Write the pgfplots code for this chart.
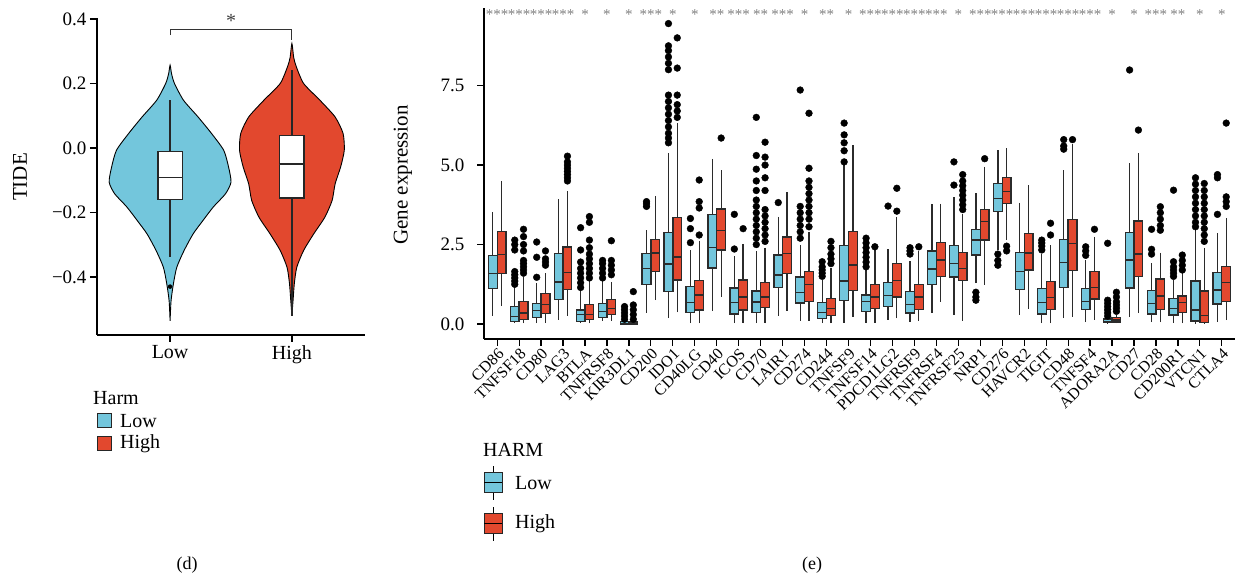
\documentclass[border=0pt]{standalone}
\usepackage{fontspec}
\setmainfont{Liberation Serif}
\usepackage{pgfplots}
\pgfplotsset{compat=1.18}
\usepgfplotslibrary{statistics}
\pgfplotsset{boxplot/draw direction=y}
\definecolor{cLow}{HTML}{73C6DC}
\definecolor{cHigh}{HTML}{E2482E}
\definecolor{cEdge}{HTML}{2B2B2B}
\newcommand{\fs}[1]{\fontsize{#1}{#1}\selectfont}
\newcommand{\bx}[7]{\addplot[boxplot prepared={draw position=#1, lower whisker=#2, lower quartile=#3, median=#4, upper quartile=#5, upper whisker=#6, box extend=0.4, whisker extend=0, draw direction=y}, draw=cEdge, fill=#7, line width=1.3pt] coordinates {};}
\begin{document}
\begin{tikzpicture}
\useasboundingbox (0,0) rectangle (1237pt,580pt);
% ---------------- (d) violin ----------------
\begin{axis}[at={(97pt,245pt)}, anchor=south west, width=268pt, height=317pt, scale only axis,
  xmin=0.4, xmax=2.6, ymin=-0.58, ymax=0.403, axis lines*=left, clip=false,
  axis line style={line width=1.2pt}, tick style={line width=1.2pt, black}, tick align=outside, major tick length=7pt,
  xtick={1,2}, xticklabels={Low,High}, ytick={-0.4,-0.2,0,0.2,0.4}, yticklabels={−0.4,−0.2,0.0,0.2,0.4},
  tick label style={font=\fs{19}}, xticklabel style={font=\fs{20}}]
\addplot[fill=cLow, draw=black, line width=0.9pt, smooth, tension=0.4] coordinates {
(1,-0.536) (1.008,-0.474) (1.027,-0.422) (1.055,-0.37) (1.115,-0.318) (1.19,-0.266) (1.27,-0.225) (1.355,-0.183) (1.455,-0.142) (1.50,-0.106) (1.48,-0.059) (1.44,-0.007) (1.34,0.045) (1.23,0.096) (1.11,0.148) (1.036,0.2) (1.012,0.23) (1,0.257)
(0.988,0.23) (0.964,0.2) (0.89,0.148) (0.77,0.096) (0.66,0.045) (0.56,-0.007) (0.52,-0.059) (0.50,-0.106) (0.545,-0.142) (0.645,-0.183) (0.73,-0.225) (0.81,-0.266) (0.885,-0.318) (0.945,-0.37) (0.973,-0.422) (0.992,-0.474) (1,-0.536)};
\addplot[fill=cHigh, draw=black, line width=0.9pt, smooth, tension=0.4] coordinates {
(2,-0.52) (2.01,-0.47) (2.02,-0.42) (2.04,-0.37) (2.096,-0.318) (2.18,-0.266) (2.27,-0.215) (2.33,-0.163) (2.355,-0.111) (2.40,-0.059) (2.43,-0.007) (2.42,0.045) (2.355,0.096) (2.23,0.148) (2.096,0.2) (2.036,0.252) (2.015,0.28) (2,0.324)
(1.985,0.28) (1.964,0.252) (1.904,0.2) (1.77,0.148) (1.645,0.096) (1.58,0.045) (1.57,-0.007) (1.60,-0.059) (1.645,-0.111) (1.67,-0.163) (1.73,-0.215) (1.82,-0.266) (1.904,-0.318) (1.96,-0.37) (1.98,-0.42) (1.99,-0.47) (2,-0.52)};
\addplot[boxplot prepared={draw position=1, lower whisker=-0.339, lower quartile=-0.161, median=-0.091, upper quartile=-0.010, upper whisker=0.150, box extend=0.2, whisker extend=0, draw direction=y}, draw=black!85, fill=white, line width=1.2pt] coordinates {};
\addplot[boxplot prepared={draw position=2, lower whisker=-0.52, lower quartile=-0.155, median=-0.050, upper quartile=0.039, upper whisker=0.241, box extend=0.2, whisker extend=0, draw direction=y}, draw=black!85, fill=white, line width=1.2pt] coordinates {};
\addplot[only marks, mark=*, mark size=2pt, black] coordinates {(1,-0.43)};
\addplot[black!80, line width=0.9pt] coordinates {(1,0.35) (1,0.369) (2,0.369) (2,0.335)};
\node[font=\fs{20}, text=black!75] at (axis cs:1.5,0.395) {*};
\end{axis}
% ---------------- (e) boxplots ----------------
\begin{axis}[at={(484pt,241pt)}, anchor=south west, width=751pt, height=331pt, scale only axis,
  xmin=0.4, xmax=34.6, ymin=-0.47, ymax=9.94, axis lines*=left, clip=false,
  axis line style={line width=1.2pt}, tick style={line width=1.2pt, black}, tick align=outside, major tick length=7pt,
  ytick={0,2.5,5,7.5}, yticklabels={0.0,2.5,5.0,7.5}, yticklabel style={font=\fs{19}, xshift=-9pt},
  xtick={1,...,34},
  xticklabels={CD86,TNFSF18,CD80,LAG3,BTLA,TNFRSF8,KIR3DL1,CD200,IDO1,CD40LG,CD40,ICOS,CD70,LAIR1,CD274,CD244,TNFSF9,TNFSF14,PDCD1LG2,TNFRSF9,TNFRSF4,TNFRSF25,NRP1,CD276,HAVCR2,TIGIT,CD48,TNFSF4,ADORA2A,CD27,CD28,CD200R1,VTCN1,CTLA4},
  xticklabel style={rotate=45, anchor=north east, font=\fs{16}, inner sep=1pt}]
\bx{0.8}{0.26}{1.11}{1.60}{2.16}{3.53}{cLow}
\bx{1.2}{0.56}{1.60}{2.19}{2.90}{4.50}{cHigh}
\bx{1.8}{0.02}{0.084}{0.24}{0.545}{1.17}{cLow}
\bx{2.2}{0.02}{0.15}{0.35}{0.72}{1.49}{cHigh}
\bx{2.8}{0.02}{0.21}{0.43}{0.65}{1.28}{cLow}
\bx{3.2}{0.03}{0.34}{0.62}{0.95}{1.59}{cHigh}
\bx{3.8}{0.13}{0.78}{1.32}{2.21}{3.94}{cLow}
\bx{4.2}{0.26}{1.09}{1.62}{2.42}{4.17}{cHigh}
\bx{4.8}{0.02}{0.09}{0.29}{0.44}{1.07}{cLow}
\bx{5.2}{0.02}{0.15}{0.31}{0.61}{1.35}{cHigh}
\bx{5.8}{0.1}{0.20}{0.40}{0.65}{1.35}{cLow}
\bx{6.2}{0.1}{0.29}{0.48}{0.77}{1.33}{cHigh}
\bx{6.8}{0}{0.0}{0.02}{0.07}{0.1}{cLow}
\bx{7.2}{0}{0.0}{0.03}{0.07}{0.1}{cHigh}
\bx{7.8}{0.36}{1.24}{1.75}{2.21}{2.95}{cLow}
\bx{8.2}{0.75}{1.66}{2.23}{2.66}{4.03}{cHigh}
\bx{8.8}{0.18}{1.03}{1.89}{2.88}{5.38}{cLow}
\bx{9.2}{0.37}{1.39}{2.11}{3.36}{6.32}{cHigh}
\bx{9.8}{0.02}{0.37}{0.67}{1.17}{2.33}{cLow}
\bx{10.2}{0.02}{0.44}{0.91}{1.38}{2.62}{cHigh}
\bx{10.8}{0.41}{1.76}{2.41}{3.45}{5.2}{cLow}
\bx{11.2}{0.86}{2.33}{2.94}{3.62}{4.84}{cHigh}
\bx{11.8}{0.02}{0.32}{0.68}{1.13}{2.14}{cLow}
\bx{12.2}{0.02}{0.44}{0.85}{1.39}{2.52}{cHigh}
\bx{12.8}{0.02}{0.37}{0.69}{1.04}{2.3}{cLow}
\bx{13.2}{0.02}{0.53}{0.85}{1.31}{2.4}{cHigh}
\bx{13.8}{0.26}{1.15}{1.54}{2.17}{3.38}{cLow}
\bx{14.2}{0.42}{1.59}{2.22}{2.74}{4.14}{cHigh}
\bx{14.8}{0.1}{0.66}{1.00}{1.48}{2.5}{cLow}
\bx{15.2}{0.1}{0.71}{1.25}{1.65}{2.9}{cHigh}
\bx{15.8}{0.02}{0.18}{0.36}{0.68}{1.4}{cLow}
\bx{16.2}{0.02}{0.27}{0.48}{0.80}{1.75}{cHigh}
\bx{16.8}{0.04}{0.74}{1.35}{2.48}{5.0}{cLow}
\bx{17.2}{0.23}{1.05}{1.86}{2.90}{5.63}{cHigh}
\bx{17.8}{0.02}{0.40}{0.70}{0.91}{1.7}{cLow}
\bx{18.2}{0.04}{0.50}{0.85}{1.24}{2.33}{cHigh}
\bx{18.8}{0.13}{0.56}{0.90}{1.31}{2.35}{cLow}
\bx{19.2}{0.18}{0.85}{1.37}{1.90}{3.38}{cHigh}
\bx{19.8}{0.07}{0.35}{0.62}{1.02}{1.98}{cLow}
\bx{20.2}{0.09}{0.46}{0.85}{1.25}{2.3}{cHigh}
\bx{20.8}{0.34}{1.25}{1.73}{2.30}{3.79}{cLow}
\bx{21.2}{0.70}{1.50}{2.01}{2.56}{3.79}{cHigh}
\bx{21.8}{0.28}{1.48}{1.91}{2.48}{4.0}{cLow}
\bx{22.2}{0.10}{1.38}{1.75}{2.26}{3.45}{cHigh}
\bx{22.8}{1.28}{2.17}{2.64}{2.97}{4.11}{cLow}
\bx{23.2}{1.23}{2.64}{3.22}{3.61}{4.95}{cHigh}
\bx{23.8}{2.33}{3.55}{3.95}{4.41}{5.47}{cLow}
\bx{24.2}{2.64}{3.79}{4.16}{4.60}{5.53}{cHigh}
\bx{24.8}{0.28}{1.09}{1.65}{2.26}{3.82}{cLow}
\bx{25.2}{0.48}{1.70}{2.23}{2.84}{4.37}{cHigh}
\bx{25.8}{0.02}{0.32}{0.67}{1.12}{2.2}{cLow}
\bx{26.2}{0.02}{0.46}{0.83}{1.33}{2.48}{cHigh}
\bx{26.8}{0.18}{1.15}{1.93}{2.66}{4.84}{cLow}
\bx{27.2}{0.23}{1.69}{2.54}{3.29}{5.65}{cHigh}
\bx{27.8}{0.05}{0.46}{0.70}{1.11}{2.0}{cLow}
\bx{28.2}{0.13}{0.79}{1.14}{1.66}{2.75}{cHigh}
\bx{28.8}{0.02}{0.04}{0.08}{0.16}{0.2}{cLow}
\bx{29.2}{0.02}{0.06}{0.13}{0.21}{0.3}{cHigh}
\bx{29.8}{0.21}{1.13}{2.01}{2.88}{5.06}{cLow}
\bx{30.2}{0.34}{1.49}{2.20}{3.24}{5.38}{cHigh}
\bx{30.8}{0.05}{0.32}{0.64}{1.05}{1.91}{cLow}
\bx{31.2}{0.05}{0.45}{0.88}{1.42}{2.25}{cHigh}
\bx{31.8}{0.04}{0.28}{0.48}{0.80}{1.4}{cLow}
\bx{32.2}{0.02}{0.36}{0.67}{0.88}{1.6}{cHigh}
\bx{32.8}{0.0}{0.10}{0.44}{1.35}{3.0}{cLow}
\bx{33.2}{0.0}{0.05}{0.27}{1.04}{2.4}{cHigh}
\bx{33.8}{0.07}{0.63}{1.07}{1.62}{2.85}{cLow}
\bx{34.2}{0.12}{0.72}{1.31}{1.80}{3.32}{cHigh}
% outliers
\addplot[only marks, mark=*, mark size=3.4pt, black] coordinates {
(1.8,1.25)(1.8,1.35)(1.8,1.45)(1.8,1.55)(1.8,1.65)(1.8,2.33)(1.8,2.5)(1.8,2.64)
(2.2,1.6)(2.2,1.7)(2.2,1.8)(2.2,1.9)(2.2,2.0)(2.2,2.3)(2.2,2.5)(2.2,2.75)(2.2,2.98)
(2.8,1.47)(2.8,2.10)(2.8,2.58)(3.2,1.85)(3.2,1.95)(3.2,2.05)(3.2,2.30)
(4.2,4.5)(4.2,4.6)(4.2,4.7)(4.2,4.8)(4.2,4.9)(4.2,5.0)(4.2,5.1)(4.2,5.28)
(4.8,1.15)(4.8,1.3)(4.8,1.45)(4.8,1.6)(4.8,1.75)(4.8,1.95)(4.8,2.33)(4.8,3.03)
(5.2,1.45)(5.2,1.6)(5.2,1.75)(5.2,1.9)(5.2,2.05)(5.2,2.2)(5.2,2.4)(5.2,2.64)(5.2,3.2)(5.2,3.38)
(5.8,1.45)(5.8,1.6)(5.8,1.75)(5.8,1.9)(5.8,2.0)(6.2,1.55)(6.2,1.7)(6.2,1.85)(6.2,2.0)(6.2,2.62)
(6.8,0.15)(6.8,0.25)(6.8,0.35)(6.8,0.45)(6.8,0.55)(7.2,0.15)(7.2,0.3)(7.2,0.45)(7.2,0.6)(7.2,1.02)
(7.8,3.7)(7.8,3.78)(7.8,3.85)
(8.8,5.7)(8.8,5.85)(8.8,6.0)(8.8,6.2)(8.8,6.4)(8.8,6.6)(8.8,6.8)(8.8,7.0)(8.8,7.2)(8.8,8.0)(8.8,8.2)(8.8,8.4)(8.8,8.6)(8.8,8.75)(8.8,9.45)
(9.2,6.5)(9.2,6.7)(9.2,6.9)(9.2,7.2)(9.2,8.05)(9.2,9.0)
(9.8,2.56)(9.8,3.0)(9.8,3.32)(10.2,2.8)(10.2,3.65)(10.2,3.85)(10.2,4.53)
(11.2,5.85)(11.8,2.36)(11.8,3.45)(12.2,3.0)
(12.8,2.5)(12.8,2.7)(12.8,2.9)(12.8,3.1)(12.8,3.3)(12.8,3.5)(12.8,3.7)(12.8,3.9)(12.8,4.2)(12.8,4.5)(12.8,4.87)(12.8,5.3)(12.8,6.5)
(13.2,2.6)(13.2,2.8)(13.2,3.0)(13.2,3.2)(13.2,3.4)(13.2,3.6)(13.2,4.2)(13.2,4.6)(13.2,5.0)(13.2,5.25)(13.2,5.72)
(13.8,3.82)
(14.8,2.7)(14.8,2.9)(14.8,3.1)(14.8,3.3)(14.8,3.5)(14.8,3.7)(14.8,7.36)
(15.2,3.06)(15.2,3.3)(15.2,3.5)(15.2,3.7)(15.2,3.9)(15.2,4.1)(15.2,4.3)(15.2,4.5)(15.2,4.9)(15.2,6.63)
(15.8,1.5)(15.8,1.6)(15.8,1.7)(15.8,1.8)(15.8,1.96)(16.2,1.9)(16.2,2.05)(16.2,2.2)(16.2,2.4)(16.2,2.6)
(16.8,5.1)(16.8,5.45)(16.8,5.7)(16.8,5.95)(16.8,6.32)
(17.8,1.8)(17.8,1.95)(17.8,2.1)(17.8,2.25)(17.8,2.4)(17.8,2.55)(17.8,2.7)(18.2,2.43)
(18.8,3.71)(19.2,3.55)(19.2,4.27)
(19.8,2.2)(19.8,2.3)(19.8,2.4)(20.2,2.43)
(21.8,4.37)(21.8,5.1)(22.2,3.6)(22.2,3.75)(22.2,3.9)(22.2,4.05)(22.2,4.2)(22.2,4.35)(22.2,4.5)(22.2,4.7)
(22.8,0.75)(22.8,0.85)(22.8,1.0)(23.2,5.2)
(23.8,1.85)(23.8,2.0)(23.8,2.2)(24.2,2.3)(24.2,2.45)
(25.8,2.33)(25.8,2.45)(25.8,2.55)(25.8,2.64)(26.2,2.8)(26.2,3.17)
(26.8,5.5)(26.8,5.6)(26.8,5.8)(27.2,5.8)
(27.8,2.16)(27.8,2.3)(27.8,2.43)(28.2,2.98)
(28.8,0.25)(28.8,0.35)(28.8,0.45)(28.8,0.55)(28.8,0.65)(28.8,0.75)(28.8,2.54)
(29.2,0.4)(29.2,0.5)(29.2,0.6)(29.2,0.7)(29.2,0.85)(29.2,1.0)
(29.8,7.99)(30.2,6.1)
(30.8,2.2)(30.8,2.35)(30.8,2.98)(31.2,2.95)(31.2,3.1)(31.2,3.3)(31.2,3.5)(31.2,3.69)
(31.8,1.5)(31.8,1.6)(31.8,1.7)(31.8,1.8)(31.8,1.96)(31.8,4.21)(32.2,1.7)(32.2,1.85)(32.2,2.0)(32.2,2.17)
(32.8,3.06)(32.8,3.2)(32.8,3.4)(32.8,3.6)(32.8,3.8)(32.8,4.0)(32.8,4.2)(32.8,4.4)(32.8,4.6)
(33.2,2.6)(33.2,2.8)(33.2,3.0)(33.2,3.2)(33.2,3.4)(33.2,3.6)(33.2,3.8)(33.2,4.0)(33.2,4.2)(33.2,4.42)
(33.8,3.45)(33.8,4.6)(33.8,4.7)(34.2,3.7)(34.2,3.85)(34.2,4.0)(34.2,6.32)};
% significance stars
\addplot[only marks, mark=none, point meta=explicit symbolic, nodes near coords, nodes near coords align={center},
  every node near coord/.style={font=\fs{15}, text=black!50, anchor=center, inner sep=0pt}] coordinates {
(1,9.72)[***] (2,9.72)[***] (3,9.72)[***] (4,9.72)[***] (5,9.72)[*] (6,9.72)[*] (7,9.72)[*] (8,9.72)[***]
(9,9.72)[*] (10,9.72)[*] (11,9.72)[**] (12,9.72)[***] (13,9.72)[**] (14,9.72)[***] (15,9.72)[*] (16,9.72)[**]
(17,9.72)[*] (18,9.72)[***] (19,9.72)[***] (20,9.72)[***] (21,9.72)[***] (22,9.72)[*] (23,9.72)[***] (24,9.72)[***]
(25,9.72)[***] (26,9.72)[***] (27,9.72)[***] (28,9.72)[***] (29,9.72)[*] (30,9.72)[*] (31,9.72)[***] (32,9.72)[**]
(33,9.72)[*] (34,9.72)[*]};
\end{axis}
% axis titles
\node[rotate=90, font=\fs{21}] at (20pt,403pt) {TIDE};
\node[rotate=90, font=\fs{21}] at (403pt,405pt) {Gene expression};
% legend (d)
\node[anchor=west, font=\fs{20}, inner sep=0pt] at (93pt,182pt) {Harm};
\draw[fill=cLow, draw=black!85, line width=1pt] (97pt,152pt) rectangle (111pt,166pt);
\node[anchor=west, font=\fs{20}, inner sep=0pt] at (120pt,159pt) {Low};
\draw[fill=cHigh, draw=black!85, line width=1pt] (97pt,129pt) rectangle (111pt,143pt);
\node[anchor=west, font=\fs{20}, inner sep=0pt] at (120pt,136pt) {High};
% legend (e)
\node[anchor=west, font=\fs{20}, inner sep=0pt] at (483pt,130pt) {HARM};
\draw[black, line width=1pt] (493pt,104pt) -- (493pt,114pt) (493pt,80pt) -- (493pt,90pt);
\draw[fill=cLow, draw=black!85, line width=1pt] (484pt,87pt) rectangle (502pt,107pt);
\draw[black, line width=1pt] (484pt,97pt) -- (502pt,97pt);
\node[anchor=west, font=\fs{20}, inner sep=0pt] at (515pt,97pt) {Low};
\draw[black, line width=1pt] (493pt,63pt) -- (493pt,73pt) (493pt,39pt) -- (493pt,49pt);
\draw[fill=cHigh, draw=black!85, line width=1pt] (484pt,46pt) rectangle (502pt,66pt);
\draw[black, line width=1pt] (484pt,56pt) -- (502pt,56pt);
\node[anchor=west, font=\fs{20}, inner sep=0pt] at (515pt,56pt) {High};
% captions
\node[font=\fs{18}] at (187pt,15pt) {(d)};
\node[font=\fs{18}] at (812pt,15pt) {(e)};
\end{tikzpicture}
\end{document}
